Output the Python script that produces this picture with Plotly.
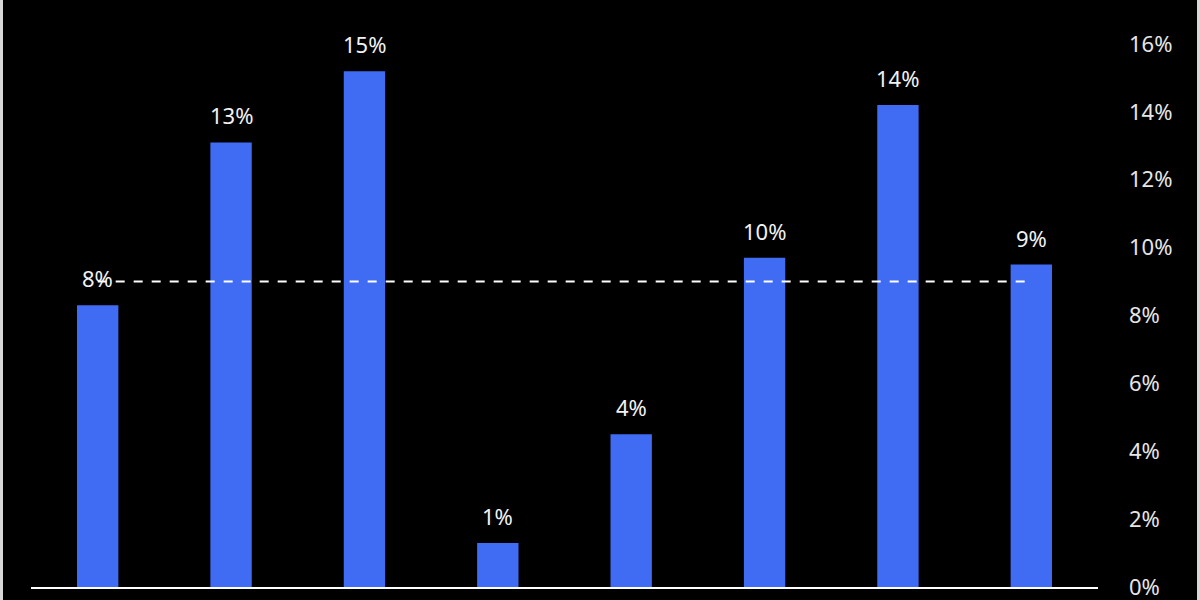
import plotly.graph_objects as go

categories = ["A", "B", "C", "D", "E", "F", "G", "H"]
values = [8.3, 13.1, 15.2, 1.3, 4.5, 9.7, 14.2, 9.5]
labels = ["8%", "13%", "15%", "1%", "4%", "10%", "14%", "9%"]
average = 9.0
tick_vals = [0, 2, 4, 6, 8, 10, 12, 14, 16]
tick_text = ["0%", "2%", "4%", "6%", "8%", "10%", "12%", "14%", "16%"]

W, H = 1200, 600
L, R, T, B = 31, 102, 44, 13
pw, ph = W - L - R, H - T - B

fig = go.Figure()
fig.add_trace(go.Bar(
    x=categories, y=values,
    marker=dict(color="#3F6CF3", line=dict(width=0)),
    width=0.31, hoverinfo="skip",
))

for c, v, t in zip(categories, values, labels):
    fig.add_annotation(x=c, y=v, text=t, showarrow=False, yshift=27,
                       font=dict(family="Noto Sans", size=22, color="#f2f2f2"))

fig.add_shape(type="line", xref="x", yref="y", x0=categories[0], x1=categories[-1],
              y0=average, y1=average, layer="above",
              line=dict(color="white", width=2, dash="dash"))

# light grey frame strips at the page's left and right edges
for xe in (-L / pw, 1 + R / pw):
    fig.add_shape(type="line", xref="paper", yref="paper", x0=xe, x1=xe,
                  y0=-B / ph, y1=1 + T / ph, line=dict(color="#d8d8d8", width=6))

fig.update_layout(
    width=W, height=H,
    paper_bgcolor="black", plot_bgcolor="black",
    margin=dict(l=L, r=R, t=T, b=B, pad=0, autoexpand=False),
    showlegend=False,
    xaxis=dict(showticklabels=False, showgrid=False, zeroline=False,
               showline=True, linecolor="white", linewidth=1.5,
               range=[-0.5, 7.5], automargin=False),
    yaxis=dict(side="right", range=[0, 16], tickvals=tick_vals, ticktext=tick_text,
               showgrid=False, zeroline=False, showline=False, automargin=False,
               ticklabelstandoff=30, ticklabeloverflow="allow",
               tickfont=dict(family="Noto Sans", size=22, color="#e6e6e6")),
)

fig.write_html("out.html", config={"displayModeBar": False},
               post_script="document.body.style.margin='0';document.body.style.background='black';")
